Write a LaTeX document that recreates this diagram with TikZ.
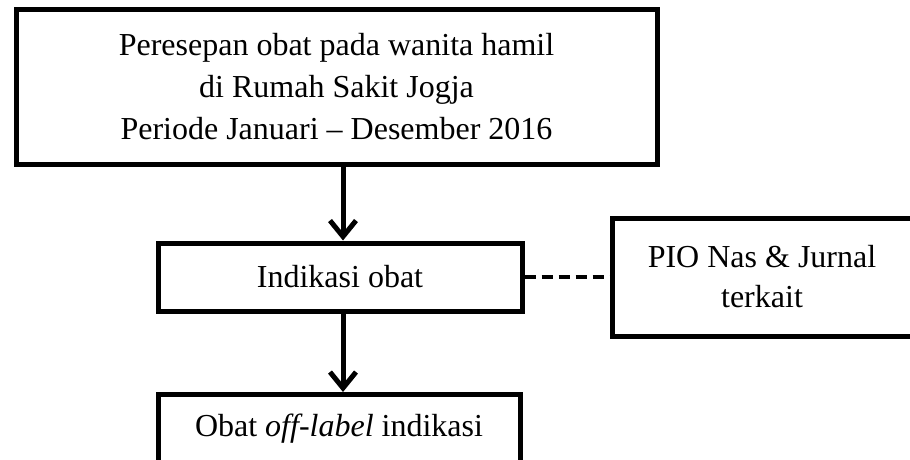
\documentclass[tikz,border=0pt]{standalone}
\usepackage{fontspec}
\setmainfont{Liberation Serif}
\usepackage{tikz}
\usetikzlibrary{arrows.meta,positioning}

\begin{document}
\begin{tikzpicture}[x=0.5pt, y=-0.5pt, font=\fontsize{16}{21}\selectfont,
  kotak/.style={draw, line width=2.5pt, align=center, inner sep=0pt},
  panah/.style={line width=2.5pt, -{Straight Barb[length=8pt,width=13pt]}},
  putus/.style={line width=2pt, dash pattern=on 5.5pt off 3pt}]
\useasboundingbox (0,0) rectangle (910,460);
\clip (0,0) rectangle (910,460);
% kotak alur
\node[kotak, minimum width=320.5pt, minimum height=77pt] (resep) at (336.5,87)
  {Peresepan obat pada wanita hamil\\di Rumah Sakit Jogja\\Periode Januari -- Desember 2016};
\node[kotak, minimum width=182pt, minimum height=34pt] (indikasi) at (340,277) {Indikasi obat};
\node[kotak, minimum width=150pt, minimum height=59pt, font=\fontsize{16}{20}\selectfont]
  (pio) at (762,277) {PIO Nas \& Jurnal\\terkait};
\node[kotak, anchor=north, minimum width=181pt, text depth=20pt, inner ysep=9.5pt]
  (offlabel) at (339,392) {Obat \textit{off-label} indikasi};
% penghubung
\draw[panah] ([xshift=1.5pt]indikasi.north |- resep.south) -- ([xshift=1.5pt]indikasi.north);
\draw[panah] ([xshift=1.5pt]indikasi.south) -- ([xshift=1.5pt]indikasi.south |- offlabel.north);
\draw[putus] (indikasi.east) -- (pio.west);
\end{tikzpicture}
\end{document}
